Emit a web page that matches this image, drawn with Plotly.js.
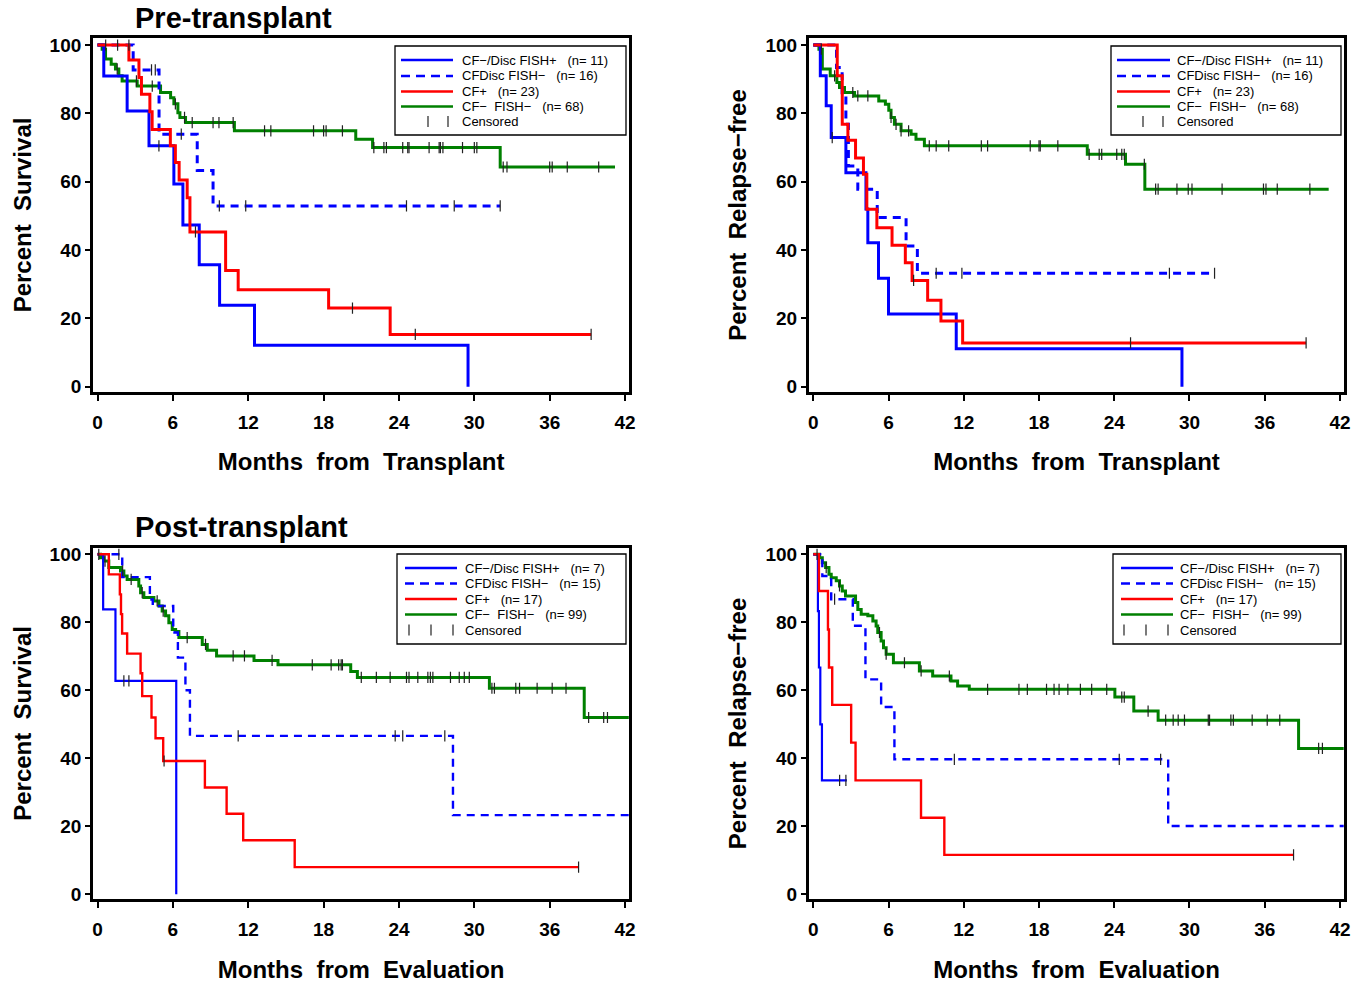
<!DOCTYPE html>
<html><head><meta charset="utf-8">
<script src="https://cdn.plot.ly/plotly-3.0.1.min.js"></script>
<style>html,body{margin:0;padding:0;background:#fff}#chart{width:1368px;height:988px}</style>
</head><body><div id="chart"></div>
<script>
// ---------------- DATA ----------------
const xTicks = [0, 6, 12, 18, 24, 30, 36, 42];
const yTicks = [0, 20, 40, 60, 80, 100];
const panelTitles = ['Pre-transplant', 'Post-transplant'];
const yTitles = ['Percent\u00a0 Survival', 'Percent\u00a0 Relapse\u2212free'];
const xTitles = ['Months\u00a0 from\u00a0 Transplant', 'Months\u00a0 from\u00a0 Evaluation'];
const legendPre = ['CF\u2212/Disc FISH+\u00a0\u00a0 (n= 11)', 'CFDisc FISH\u2212\u00a0\u00a0 (n= 16)', 'CF+\u00a0\u00a0 (n= 23)', 'CF\u2212\u00a0 FISH\u2212\u00a0\u00a0 (n= 68)', 'Censored'];
const legendPost = ['CF\u2212/Disc FISH+\u00a0\u00a0 (n= 7)', 'CFDisc FISH\u2212\u00a0\u00a0 (n= 15)', 'CF+\u00a0\u00a0 (n= 17)', 'CF\u2212\u00a0 FISH\u2212\u00a0\u00a0 (n= 99)', 'Censored'];

// Pre-transplant, overall survival
const preOS_discPosT = [0, 0.5, 2.36, 4.1, 6.08, 6.8, 8.1, 9.72, 12.5, 29.5];
const preOS_discPosS = [100, 90.9, 80.7, 70.5, 59.3, 47.3, 35.7, 23.8, 12.1, 0];
const preOS_discPosC = [4.89];
const preOS_discNegT = [0, 2.84, 4.9, 7.94, 9.2, 32.06];
const preOS_discNegS = [100, 92.7, 73.9, 63.3, 52.9, 52.9];
const preOS_discNegC = [2.5, 4.3, 4.6, 6.67, 9.7, 11.8, 24.6, 28.4, 32.06];
const preOS_cfPosT = [0, 2.5, 3.3, 3.5, 4.17, 4.35, 5.8, 6.2, 6.5, 7.14, 7.36, 10.2, 11.2, 18.4, 23.3, 39.3];
const preOS_cfPosS = [100, 95.6, 90.5, 85.6, 80.5, 75.3, 70.5, 65.6, 60.5, 55.3, 45.3, 34.0, 28.4, 23.0, 15.3, 15.3];
const preOS_cfPosC = [0.65, 1.6, 7.8, 20.3, 25.3, 39.3];
const preOS_negT = [0, 0.37, 0.64, 1.09, 1.43, 1.7, 1.96, 3.16, 5.02, 5.82, 6.08, 6.4, 6.56, 7.01, 10.9, 20.56, 21.9, 32.06, 41.2];
const preOS_negS = [100, 98.8, 95.9, 94.4, 93.0, 91.0, 89.5, 88.0, 86.1, 84.6, 82.8, 80.2, 78.8, 77.3, 74.9, 72.4, 70.0, 64.3, 64.3];
const preOS_negC = [1.57, 3.1, 4.36, 6.2, 6.93, 7.54, 9.2, 9.67, 10.8, 13.3, 13.8, 17.2, 18.0, 18.2, 19.5, 22.0, 22.8, 23.0, 24.3, 24.7, 24.8, 26.4, 27.2, 27.3, 27.5, 29.06, 30.0, 30.2, 32.3, 32.6, 36.0, 36.2, 37.4, 39.9];

// Pre-transplant, relapse-free
const preRF_discPosT = [0, 0.56, 1.03, 1.43, 2.6, 4.2, 4.35, 5.2, 6.0, 11.4, 29.4];
const preRF_discPosS = [100, 91.0, 82.2, 72.9, 62.6, 52.0, 42.1, 31.7, 21.3, 11.1, 0];
const preRF_discPosC = [1.51];
const preRF_discNegT = [0, 1.85, 2.3, 2.6, 2.8, 3.55, 5.1, 7.4, 8.3, 32.0];
const preRF_discNegS = [100, 93.4, 85.6, 76.8, 64.6, 57.8, 49.5, 41.2, 33.2, 33.2];
const preRF_discNegC = [9.8, 11.85, 28.4, 32.0];
const preRF_cfPosT = [0, 1.91, 2.31, 2.76, 3.37, 4.0, 4.27, 5.07, 6.28, 7.34, 7.88, 9.12, 10.18, 11.91, 39.3];
const preRF_cfPosS = [100, 91.0, 76.8, 72.1, 66.9, 62.2, 51.9, 46.5, 41.4, 36.3, 31.1, 25.3, 19.2, 12.8, 12.8];
const preRF_cfPosC = [8.0, 25.3, 39.3];
const preRF_negT = [0, 0.45, 0.72, 1.35, 1.88, 2.09, 2.49, 3.29, 5.22, 5.75, 6.02, 6.2, 6.47, 7.0, 7.8, 8.19, 8.86, 21.85, 24.9, 26.44, 41.1];
const preRF_negS = [100, 98.8, 93.0, 91.0, 89.0, 87.6, 86.1, 85.1, 83.6, 82.7, 80.9, 78.8, 76.8, 74.9, 73.9, 72.4, 70.5, 68.0, 65.1, 57.8, 57.8];
const preRF_negC = [0.64, 1.7, 3.15, 3.55, 4.35, 6.2, 6.6, 7.0, 7.6, 9.25, 9.8, 10.8, 13.4, 13.9, 17.3, 18.0, 18.1, 19.5, 22.0, 22.8, 23.0, 24.2, 24.6, 24.8, 26.4, 27.3, 27.5, 29.0, 29.9, 30.2, 32.6, 35.9, 36.1, 37.0, 39.6];

// Post-transplant, overall survival
const postOS_discPosT = [0, 0.45, 1.43, 6.27];
const postOS_discPosS = [100, 83.8, 62.8, 0];
const postOS_discPosC = [2.1, 2.5];
const postOS_discNegT = [0, 1.97, 4.17, 4.4, 6.03, 6.4, 7.0, 7.36, 28.3, 42.3];
const postOS_discNegS = [100, 93.3, 86.7, 84.8, 77.0, 69.6, 60.0, 46.6, 23.3, 23.3];
const postOS_discNegC = [1.7, 11.2, 23.7, 24.3, 27.65];
const postOS_cfPosT = [0, 0.9, 1.78, 1.87, 1.96, 2.36, 3.43, 3.56, 4.3, 4.62, 5.23, 8.55, 10.28, 11.6, 15.7, 38.3];
const postOS_cfPosS = [100, 94.1, 88.2, 82.4, 76.7, 70.8, 65.0, 58.3, 52.0, 45.9, 39.2, 31.4, 23.7, 15.9, 8.0, 8.0];
const postOS_cfPosC = [5.3, 38.3];
const postOS_negT = [0, 0.24, 0.5, 0.9, 1.83, 2.1, 2.36, 3.29, 3.43, 3.69, 4.49, 4.89, 5.15, 5.42, 5.68, 5.95, 6.22, 6.48, 8.34, 8.74, 9.48, 12.46, 14.37, 20.16, 20.69, 31.2, 38.75, 42.3];
const postOS_negS = [100, 99.0, 98.0, 96.1, 95.1, 93.6, 92.6, 90.7, 88.7, 87.3, 86.3, 84.8, 83.3, 81.9, 79.9, 77.9, 77.3, 75.5, 73.5, 71.8, 70.1, 68.8, 67.5, 65.5, 63.8, 60.6, 52.0, 52.0];
const postOS_negC = [0.1, 0.6, 2.0, 2.68, 3.56, 4.75, 5.23, 7.14, 8.6, 10.8, 11.7, 13.9, 17.1, 18.6, 19.2, 19.4, 19.5, 21.0, 22.2, 23.3, 24.6, 24.8, 25.5, 26.3, 26.5, 26.7, 28.1, 28.8, 29.2, 29.6, 31.4, 31.6, 33.3, 33.6, 35.0, 36.2, 37.3, 39.1, 40.3, 40.6];

// Post-transplant, relapse-free
const postRF_discPosT = [0, 0.37, 0.45, 0.56, 0.69, 2.68];
const postRF_discPosS = [100, 83.3, 66.7, 50.0, 33.5, 33.5];
const postRF_discPosC = [2.1, 2.6];
const postRF_discNegT = [0, 0.72, 1.43, 3.15, 4.16, 5.41, 6.47, 28.3, 42.3];
const postRF_discNegS = [100, 93.6, 86.8, 79.0, 63.2, 55.1, 39.7, 20.1, 20.1];
const postRF_discNegC = [1.7, 11.25, 24.4, 27.7];
const postRF_cfPosT = [0, 0.45, 1.17, 1.25, 1.51, 3.02, 3.37, 8.59, 10.45, 38.3];
const postRF_cfPosS = [100, 89.2, 77.9, 66.7, 55.7, 44.6, 33.5, 22.5, 11.6, 11.6];
const postRF_cfPosC = [38.3];
const postRF_negT = [0, 0.5, 0.72, 0.98, 1.25, 1.43, 1.83, 2.09, 2.31, 2.57, 3.37, 3.55, 3.82, 4.35, 4.75, 5.01, 5.14, 5.41, 5.6, 5.81, 6.39, 8.46, 9.52, 10.98, 11.51, 12.44, 24.05, 25.56, 27.5, 38.7, 42.3];
const postRF_negS = [100, 99.0, 97.5, 96.1, 94.1, 93.1, 92.2, 90.7, 89.2, 87.7, 85.8, 83.8, 82.4, 81.9, 80.4, 78.9, 77.0, 74.5, 72.5, 70.6, 68.1, 65.7, 64.2, 62.7, 61.3, 60.3, 58.0, 53.9, 51.2, 42.9, 42.9];
const postRF_negC = [0.3, 1.03, 2.09, 5.28, 5.81, 7.27, 8.6, 10.85, 13.9, 16.4, 17.07, 18.6, 19.2, 19.6, 20.3, 21.3, 22.2, 23.4, 24.6, 24.8, 26.7, 28.1, 28.7, 29.1, 29.6, 31.5, 31.6, 33.3, 33.5, 35.0, 36.2, 37.2, 40.3, 40.6];

// ---------------- STYLE / LAYOUT ----------------
const W = 1368, H = 988;
const BLUE = '#0000ff', RED = '#ff0000', GREEN = '#008000';
const FONT = 'Arial, "Liberation Sans", sans-serif';

function stepAt(T, S, t) {
  let v = S[0];
  for (let i = 0; i < T.length; i++) { if (T[i] <= t + 1e-9) v = S[i]; else break; }
  return v;
}
const px = x => x / W;
const py = y => 1 - y / H;

const panels = [
  { xa: 'x', ya: 'y', xdom: [93.1, 629.2], ydom: [38.2, 391.8], ytitle: yTitles[0], xtitle: xTitles[0], legend: legendPre,
    data: [[preOS_discPosT, preOS_discPosS, preOS_discPosC], [preOS_discNegT, preOS_discNegS, preOS_discNegC], [preOS_cfPosT, preOS_cfPosS, preOS_cfPosC], [preOS_negT, preOS_negS, preOS_negC]],
    lw: [3, 3, 3, 3], lg: { box: [395, 46, 626, 135], s: [401, 453], tx: 460, rows: [60, 76, 91.5, 106.5, 121.5], ticks: [428, 448] } },
  { xa: 'x2', ya: 'y2', xdom: [808.9, 1344.1], ydom: [38.2, 391.8], ytitle: yTitles[1], xtitle: xTitles[0], legend: legendPre,
    data: [[preRF_discPosT, preRF_discPosS, preRF_discPosC], [preRF_discNegT, preRF_discNegS, preRF_discNegC], [preRF_cfPosT, preRF_cfPosS, preRF_cfPosC], [preRF_negT, preRF_negS, preRF_negC]],
    lw: [3, 3, 3, 3], lg: { box: [1111, 46, 1341, 135], s: [1117, 1170], tx: 1175, rows: [60, 76, 91.5, 106.5, 121.5], ticks: [1143, 1163] } },
  { xa: 'x3', ya: 'y3', xdom: [93.1, 629.2], ydom: [547.5, 899.4], ytitle: yTitles[0], xtitle: xTitles[1], legend: legendPost,
    data: [[postOS_discPosT, postOS_discPosS, postOS_discPosC], [postOS_discNegT, postOS_discNegS, postOS_discNegC], [postOS_cfPosT, postOS_cfPosS, postOS_cfPosC], [postOS_negT, postOS_negS, postOS_negC]],
    lw: [2.2, 2.4, 2.4, 3], lg: { box: [397, 554, 626, 644], s: [405, 457], tx: 463, rows: [568, 583.5, 599, 614.5, 630], ticks: [409, 431, 453] } },
  { xa: 'x4', ya: 'y4', xdom: [808.9, 1344.1], ydom: [547.5, 899.4], ytitle: yTitles[1], xtitle: xTitles[1], legend: legendPost,
    data: [[postRF_discPosT, postRF_discPosS, postRF_discPosC], [postRF_discNegT, postRF_discNegS, postRF_discNegC], [postRF_cfPosT, postRF_cfPosS, postRF_cfPosC], [postRF_negT, postRF_negS, postRF_negC]],
    lw: [2.2, 2.4, 2.4, 3], lg: { box: [1113, 554, 1341, 644], s: [1121, 1173], tx: 1178, rows: [568, 583.5, 599, 614.5, 630], ticks: [1124, 1146, 1168] } }
];

const seriesStyle = [
  { color: BLUE, dash: 'solid' },
  { color: BLUE, dash: '8px,6px' },
  { color: RED, dash: 'solid' },
  { color: GREEN, dash: 'solid' }
];
const drawOrder = [3, 0, 1, 2];

const traces = [];
const layout = {
  width: W, height: H, margin: { l: 0, r: 0, t: 0, b: 0 },
  paper_bgcolor: '#fff', plot_bgcolor: '#fff', showlegend: false,
  font: { family: FONT, color: '#000' },
  shapes: [], annotations: []
};

panels.forEach((p, pi) => {
  drawOrder.forEach(si => {
    const [T, S] = p.data[si];
    traces.push({ type: 'scatter', mode: 'lines', x: T, y: S, xaxis: p.xa, yaxis: p.ya, name: p.legend[si],
      line: { shape: 'hv', color: seriesStyle[si].color, width: p.lw[si], dash: seriesStyle[si].dash }, hoverinfo: 'skip' });
  });
  drawOrder.forEach(si => {
    const [T, S, C] = p.data[si];
    traces.push({ type: 'scatter', mode: 'markers', x: C, y: C.map(t => stepAt(T, S, t)), xaxis: p.xa, yaxis: p.ya, name: 'Censored',
      marker: { symbol: 'line-ns-open', size: 8, color: '#222', line: { color: '#222', width: 1.2 } }, hoverinfo: 'skip' });
  });
  const sfx = pi === 0 ? '' : String(pi + 1);
  const axCommon = { showline: true, linewidth: 3, linecolor: '#000', mirror: true, showgrid: false, zeroline: false,
    ticks: 'outside', ticklen: 6, tickwidth: 2, tickcolor: '#000', automargin: false,
    tickfont: { family: FONT, size: 19, weight: 'bold', color: '#000' } };
  layout['xaxis' + sfx] = Object.assign({}, axCommon, {
    domain: [px(p.xdom[0]), px(p.xdom[1])], anchor: p.ya, range: [-0.35, 42.33], tickvals: xTicks, ticktext: xTicks.map(String),
    ticklabelstandoff: 5,
    title: { text: p.xtitle, font: { family: FONT, size: 24, weight: 'bold', color: '#000' }, standoff: 22 } });
  layout['yaxis' + sfx] = Object.assign({}, axCommon, {
    domain: [py(p.ydom[1]), py(p.ydom[0])], anchor: p.xa, range: [-1.5, 102], tickvals: yTicks, ticktext: yTicks.map(String),
    ticklen: 5, ticklabelstandoff: 0,
    title: { text: p.ytitle, font: { family: FONT, size: 24, weight: 'bold', color: '#000' }, standoff: 12 } });

  // legend box
  const g = p.lg;
  layout.shapes.push({ type: 'rect', xref: 'paper', yref: 'paper', x0: px(g.box[0]), x1: px(g.box[2]), y0: py(g.box[3]), y1: py(g.box[1]),
    line: { color: '#000', width: 1.3 }, fillcolor: '#fff', layer: 'above' });
  for (let si = 0; si < 4; si++) {
    layout.shapes.push({ type: 'line', xref: 'paper', yref: 'paper', x0: px(g.s[0]), x1: px(g.s[1]), y0: py(g.rows[si]), y1: py(g.rows[si]),
      line: { color: seriesStyle[si].color, width: 2.6, dash: si === 1 ? '9px,6px' : 'solid' }, layer: 'above' });
  }
  g.ticks.forEach(tx => layout.shapes.push({ type: 'line', xref: 'paper', yref: 'paper', x0: px(tx), x1: px(tx), y0: py(g.rows[4] - 5.5), y1: py(g.rows[4] + 5.5),
    line: { color: '#222', width: 1.2 }, layer: 'above' }));
  p.legend.forEach((txt, i) => layout.annotations.push({ xref: 'paper', yref: 'paper', x: px(g.tx), y: py(g.rows[i]), xanchor: 'left', yanchor: 'middle',
    text: txt, showarrow: false, font: { family: FONT, size: 13, color: '#000' } }));
});

layout.annotations.push({ xref: 'paper', yref: 'paper', x: px(133), y: py(18), xanchor: 'left', yanchor: 'middle', text: panelTitles[0], showarrow: false,
  font: { family: FONT, size: 29, weight: 'bold', color: '#000' } });
layout.annotations.push({ xref: 'paper', yref: 'paper', x: px(133), y: py(527), xanchor: 'left', yanchor: 'middle', text: panelTitles[1], showarrow: false,
  font: { family: FONT, size: 29, weight: 'bold', color: '#000' } });

Plotly.newPlot('chart', traces, layout, { staticPlot: true, displayModeBar: false });
</script></body></html>
